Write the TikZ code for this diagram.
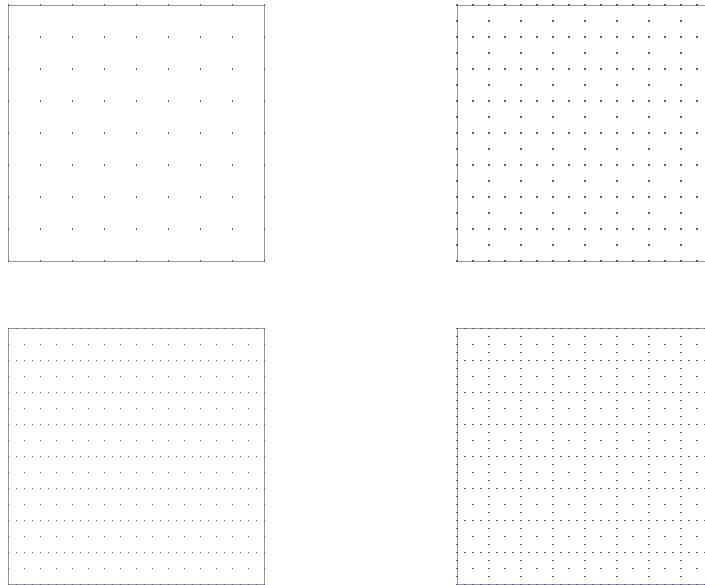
\documentclass[tikz,border=0pt]{standalone}
\definecolor{dotblue}{RGB}{80, 80, 235}
\definecolor{framegray}{RGB}{150, 150, 150}
% grid of points: origin x, origin y, step x, step y, count x, count y
\newcommand{\pointgrid}[6]{%
  \foreach \i in {0,...,#5}{%
    \foreach \j in {0,...,#6}{%
      \fill[gridpt] ({#1+\i*#3-0.9},{#2+\j*#4-0.9}) rectangle ++(1.8,1.8);
    }%
  }%
}
\begin{document}
\begin{tikzpicture}[
    x=1pt, y=-1pt,
    frame/.style={draw=framegray, line width=0.9pt},
    gridpt/.style={fill=dotblue}
]
    \clip (0,0) rectangle (705,585);
    % Frames
    \foreach \ox/\oy in {8.5/5, 457/5, 8.5/328.5, 457/328.5}
        \draw[frame] (\ox,\oy) rectangle ++(256,256);

    % Full grid
    \pointgrid{8.5}{5}{32}{32}{8}{8}
    % One refinement
    \pointgrid{457}{5}{16}{32}{16}{8}
    \pointgrid{457}{5}{32}{16}{8}{16}
    % Refinement with finer x
    \pointgrid{8.5}{328.5}{8}{32}{32}{8}
    \pointgrid{8.5}{328.5}{16}{16}{16}{16}
    % Sparse grid
    \pointgrid{457}{328.5}{8}{32}{32}{8}
    \pointgrid{457}{328.5}{16}{16}{16}{16}
    \pointgrid{457}{328.5}{32}{8}{8}{32}
\end{tikzpicture}
\end{document}
